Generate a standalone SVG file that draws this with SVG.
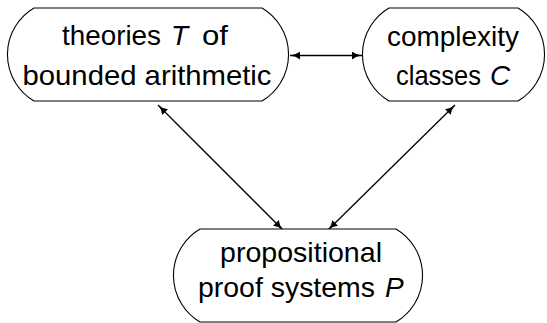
<svg xmlns="http://www.w3.org/2000/svg" width="547" height="323" viewBox="0 0 547 323">
<style>
.node{fill:#fff;stroke:#000;stroke-width:1.1}
.t{font-family:"Liberation Sans",Arial,sans-serif;font-size:28px;fill:#000;text-anchor:middle}
.s{text-anchor:start}
.i{font-style:italic;text-anchor:start}
.edge{stroke:#000;stroke-width:1.3;fill:none;marker-start:url(#ah);marker-end:url(#ah)}
</style>
<defs>
<marker id="ah" viewBox="0 0 10 8" refX="10" refY="4" markerUnits="userSpaceOnUse" markerWidth="10" markerHeight="8" orient="auto-start-reverse">
<path d="M0,0 Q4,3.3 10,4 Q4,4.7 0,8 Z" fill="#000"/>
</marker>
</defs>
<rect width="547" height="323" fill="#fff"/>
<g id="connectors">
<line class="edge" x1="290" y1="55.5" x2="362" y2="55.5"/>
<line class="edge" x1="158" y1="105" x2="283" y2="230"/>
<line class="edge" x1="455" y1="105" x2="328" y2="230"/>
</g>
<g id="theories">
<path class="node" d="M34,8 H262 A54,54 0 0 1 262,101 H34 A54,54 0 0 1 34,8 Z"/>
<text class="t s" x="62" y="45" textLength="99" lengthAdjust="spacingAndGlyphs">theories</text>
<text class="t i" x="171" y="45">T</text>
<text class="t s" x="202" y="45" textLength="26" lengthAdjust="spacingAndGlyphs">of</text>
<text class="t" x="147" y="85" textLength="249" lengthAdjust="spacingAndGlyphs">bounded arithmetic</text>
</g>
<g id="complexity">
<path class="node" d="M389,8 H518 A54,54 0 0 1 518,101 H389 A54,54 0 0 1 389,8 Z"/>
<text class="t" x="453" y="45.5" textLength="132" lengthAdjust="spacingAndGlyphs">complexity</text>
<text class="t s" x="396" y="84.5" textLength="85" lengthAdjust="spacingAndGlyphs">classes</text>
<text class="t i" x="490" y="84.5">C</text>
</g>
<g id="propositional">
<path class="node" d="M200,229 H396 A54,54 0 0 1 396,322 H200 A54,54 0 0 1 200,229 Z"/>
<text class="t" x="301" y="262" textLength="162" lengthAdjust="spacingAndGlyphs">propositional</text>
<text class="t s" x="198" y="297" textLength="177" lengthAdjust="spacingAndGlyphs">proof systems</text>
<text class="t i" x="385" y="297">P</text>
</g>
</svg>
